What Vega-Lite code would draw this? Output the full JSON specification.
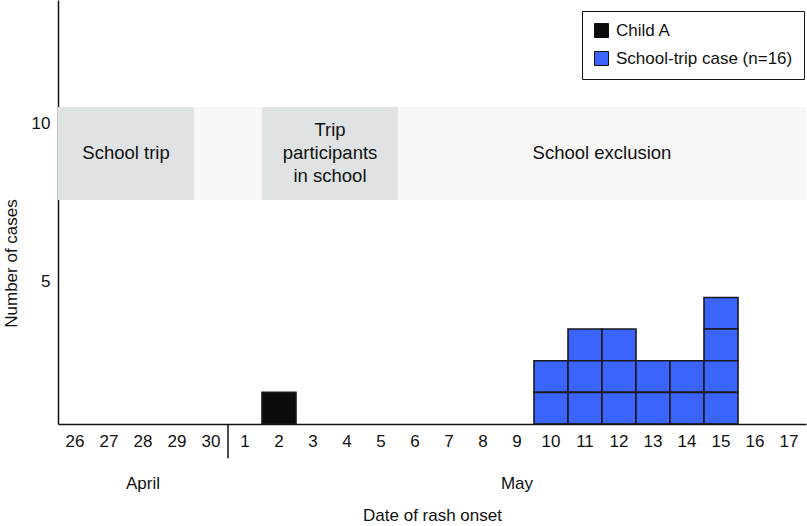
{
  "$schema": "https://vega.github.io/schema/vega-lite/v6.json",
  "width": 748,
  "height": 424,
  "autosize": {"type": "none"},
  "padding": {"left": 58, "top": 0, "right": 1, "bottom": 102},
  "background": "white",
  "config": {
    "font": "Liberation Sans",
    "view": {"stroke": null},
    "axis": {"grid": false, "ticks": false, "domainColor": "#111", "domainWidth": 1.5, "labelFont": "Liberation Sans", "labelFontSize": 17, "labelColor": "#111", "titleFont": "Liberation Sans", "titleFontSize": 17, "titleFontWeight": "normal", "titleColor": "#111"},
    "legend": {"labelFont": "Liberation Sans", "labelFontSize": 17, "labelColor": "#111"}
  },
  "datasets": {
    "days": [
      {"day": "26", "period": "trip"}, {"day": "27", "period": "trip"}, {"day": "28", "period": "trip"}, {"day": "29", "period": "trip"},
      {"day": "30", "period": "gap"}, {"day": "1", "period": "gap"},
      {"day": "2", "period": "inschool"}, {"day": "3", "period": "inschool"}, {"day": "4", "period": "inschool"}, {"day": "5", "period": "inschool"},
      {"day": "6", "period": "exclusion"}, {"day": "7", "period": "exclusion"}, {"day": "8", "period": "exclusion"}, {"day": "9", "period": "exclusion"},
      {"day": "10", "period": "exclusion"}, {"day": "11", "period": "exclusion"}, {"day": "12", "period": "exclusion"}, {"day": "13", "period": "exclusion"},
      {"day": "14", "period": "exclusion"}, {"day": "15", "period": "exclusion"}, {"day": "16", "period": "exclusion"}, {"day": "17", "period": "exclusion"}
    ],
    "cases": [
      {"id": 1, "day": "2", "type": "Child A", "n": 1},
      {"id": 2, "day": "10", "type": "School-trip case (n=16)", "n": 1},
      {"id": 3, "day": "10", "type": "School-trip case (n=16)", "n": 1},
      {"id": 4, "day": "11", "type": "School-trip case (n=16)", "n": 1},
      {"id": 5, "day": "11", "type": "School-trip case (n=16)", "n": 1},
      {"id": 6, "day": "11", "type": "School-trip case (n=16)", "n": 1},
      {"id": 7, "day": "12", "type": "School-trip case (n=16)", "n": 1},
      {"id": 8, "day": "12", "type": "School-trip case (n=16)", "n": 1},
      {"id": 9, "day": "12", "type": "School-trip case (n=16)", "n": 1},
      {"id": 10, "day": "13", "type": "School-trip case (n=16)", "n": 1},
      {"id": 11, "day": "13", "type": "School-trip case (n=16)", "n": 1},
      {"id": 12, "day": "14", "type": "School-trip case (n=16)", "n": 1},
      {"id": 13, "day": "14", "type": "School-trip case (n=16)", "n": 1},
      {"id": 14, "day": "15", "type": "School-trip case (n=16)", "n": 1},
      {"id": 15, "day": "15", "type": "School-trip case (n=16)", "n": 1},
      {"id": 16, "day": "15", "type": "School-trip case (n=16)", "n": 1},
      {"id": 17, "day": "15", "type": "School-trip case (n=16)", "n": 1}
    ],
    "periods": [
      {"label": "School trip", "day": "28"},
      {"label": "School exclusion", "day": "12"}
    ],
    "multiline": [
      {"label": "Trip\nparticipants\nin school", "day": "4"}
    ],
    "months": [
      {"month": "April", "day": "28"},
      {"month": "May", "day": "9"}
    ]
  },
  "resolve": {"scale": {"color": "independent"}},
  "encoding": {
    "x": {
      "field": "day", "type": "ordinal",
      "scale": {"domain": ["26","27","28","29","30","1","2","3","4","5","6","7","8","9","10","11","12","13","14","15","16","17"], "paddingInner": 0, "paddingOuter": 0},
      "axis": {"title": "Date of rash onset", "labelAngle": 0, "labelPadding": 9, "titleY": 91, "titleBaseline": "middle", "domainColor": "#111"}
    }
  },
  "layer": [
    {
      "data": {"name": "days"},
      "mark": {"type": "rect", "strokeWidth": 0},
      "encoding": {
        "y": {"datum": 7.08, "type": "quantitative", "scale": {"domain": [0, 13.4], "nice": false, "zero": true},
          "axis": {"title": "Number of cases", "values": [4.5, 9.5], "labelExpr": "datum.value + 0.5", "labelPadding": 8, "titleX": -47, "titleY": 263, "titleAngle": -90, "titleBaseline": "middle", "titleAlign": "center"}},
        "y2": {"datum": 10.02},
        "color": {"field": "period", "type": "nominal", "legend": null,
          "scale": {"domain": ["trip", "gap", "inschool", "exclusion"], "range": ["#dfe3e3", "#f7f7f7", "#dfe3e3", "#f7f7f7"]}}
      }
    },
    {
      "data": {"name": "periods"},
      "mark": {"type": "text", "fontSize": 18.5, "color": "#111", "baseline": "middle", "align": "center"},
      "encoding": {
        "x": {"field": "day", "type": "ordinal", "bandPosition": 0},
        "y": {"datum": 8.55, "type": "quantitative"},
        "text": {"field": "label"}
      }
    },
    {
      "data": {"name": "multiline"},
      "mark": {"type": "text", "fontSize": 18.5, "color": "#111", "lineBreak": "\n", "lineHeight": 23, "baseline": "middle", "align": "center"},
      "encoding": {
        "x": {"field": "day", "type": "ordinal", "bandPosition": 0},
        "y": {"datum": 9.28, "type": "quantitative"},
        "text": {"field": "label"}
      }
    },
    {
      "data": {"name": "cases"},
      "mark": {"type": "bar", "stroke": "#1a1a1a", "strokeWidth": 1.6},
      "encoding": {
        "y": {"field": "n", "type": "quantitative", "stack": "zero"},
        "detail": {"field": "id"},
        "color": {"field": "type", "type": "nominal", "title": null,
          "scale": {"domain": ["Child A", "School-trip case (n=16)"], "range": ["#0b0d0d", "#3b64fc"]},
          "legend": {"orient": "none", "legendX": 524, "legendY": 11, "symbolType": "square", "symbolSize": 196, "symbolStrokeColor": "#111", "symbolStrokeWidth": 1, "symbolOpacity": 1, "strokeColor": "#111", "padding": 11, "rowPadding": 9, "labelOffset": 6, "labelLimit": 300}}
      }
    },
    {
      "data": {"values": [{}]},
      "mark": {"type": "rule", "color": "#111", "strokeWidth": 1.5},
      "encoding": {
        "x": {"datum": "1", "type": "ordinal", "bandPosition": 0},
        "y": {"datum": 0, "type": "quantitative"},
        "y2": {"datum": -1.08}
      }
    },
    {
      "data": {"name": "months"},
      "mark": {"type": "text", "fontSize": 17, "color": "#111", "baseline": "middle", "align": "center"},
      "encoding": {
        "x": {"field": "day", "type": "ordinal"},
        "y": {"datum": -1.9, "type": "quantitative"},
        "text": {"field": "month"}
      }
    }
  ]
}
